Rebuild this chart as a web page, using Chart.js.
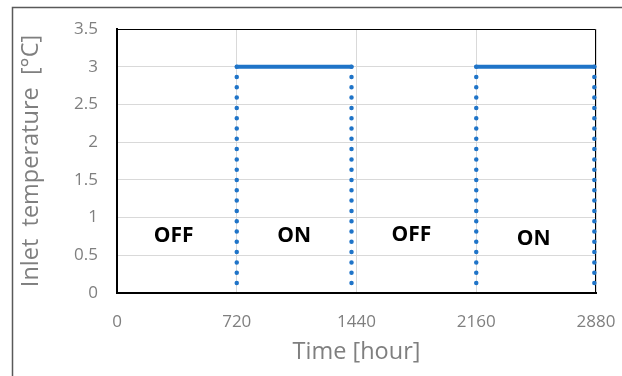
<!DOCTYPE html>
<html>
<head>
<meta charset="utf-8">
<script src="https://cdn.jsdelivr.net/npm/chart.js@4/dist/chart.umd.min.js"></script>
<style>
  html, body { margin: 0; padding: 0; background: #ffffff; }
  #wrap { position: relative; width: 622px; height: 376px; }
</style>
</head>
<body>
<div id="wrap"><canvas id="c" width="622" height="376"></canvas></div>
<script>
// Operating schedule of the heat source: inlet temperature while switched ON
const onStart = [720, 2160];      // hour the source switches ON
const onEnd = [1410, 2870];       // hour the source switches OFF again
const onLevel = [3, 3];           // inlet temperature while ON [°C]
const offLevel = [0, 0];          // inlet temperature while OFF [°C]

// Axis ticks
const xTicks = [0, 720, 1440, 2160, 2880];
const yMin = 0, yMax = 3.5, yStep = 0.5;

// State annotations inside the plot
const stateLabels = ['OFF', 'ON', 'OFF', 'ON'];
const stateLabelX = [340, 1065, 1770, 2505];
const stateLabelY = [0.75, 0.75, 0.77, 0.72];

const BLUE = '#1F74C8';
const GREY_TEXT = '#7F7F7F';
const FONT = "'Open Sans', 'DejaVu Sans', sans-serif";

const datasets = [];
// solid plateau while ON
onStart.forEach((s, i) => {
  datasets.push({
    data: [{x: s, y: onLevel[i]}, {x: onEnd[i], y: onLevel[i]}],
    borderColor: BLUE, borderWidth: 4, borderCapStyle: 'round',
    showLine: true, pointRadius: 0, clip: false
  });
});
// dotted switching edges (drawn from the plateau down)
onStart.forEach((s, i) => {
  [s, onEnd[i]].forEach(x => {
    datasets.push({
      data: [{x: x, y: onLevel[i]}, {x: x, y: offLevel[i]}],
      borderColor: BLUE, borderWidth: 4.5, borderCapStyle: 'round',
      borderDash: [0, 10.3],
      showLine: true, pointRadius: 0, clip: false
    });
  });
});

const framePlugin = {
  id: 'frames',
  beforeDraw(chart) {
    const ctx = chart.ctx;
    ctx.save();
    // outer chart frame
    ctx.strokeStyle = '#595959';
    ctx.lineWidth = 1.5;
    ctx.beginPath();
    ctx.moveTo(12.5, 400);
    ctx.lineTo(12.5, 7.5);
    ctx.lineTo(640, 7.5);
    ctx.stroke();
    ctx.restore();
  },
  beforeDatasetsDraw(chart) {
    const {ctx, chartArea: a} = chart;
    ctx.save();
    ctx.strokeStyle = '#000000';
    ctx.lineWidth = 1;
    ctx.beginPath();
    ctx.moveTo(a.left, a.top + 0.5);
    ctx.lineTo(a.right - 0.5, a.top + 0.5);
    ctx.lineTo(a.right - 0.5, a.bottom);
    ctx.stroke();
    ctx.restore();
  },
  afterDatasetsDraw(chart) {
    const {ctx, scales: {x, y}} = chart;
    ctx.save();
    ctx.fillStyle = '#000000';
    ctx.font = "bold 21px " + FONT;
    ctx.textAlign = 'center';
    ctx.textBaseline = 'middle';
    stateLabels.forEach((t, i) => {
      ctx.fillText(t, x.getPixelForValue(stateLabelX[i]), y.getPixelForValue(stateLabelY[i]));
    });
    ctx.restore();
  }
};

new Chart(document.getElementById('c'), {
  type: 'scatter',
  data: { datasets },
  options: {
    responsive: false,
    animation: false,
    events: [],
    layout: { padding: { left: 0, top: 29, right: 26, bottom: 0 } },
    plugins: { legend: { display: false }, tooltip: { enabled: false } },
    scales: {
      x: {
        type: 'linear', min: xTicks[0], max: xTicks[xTicks.length - 1],
        afterBuildTicks: s => { s.ticks = xTicks.map(v => ({value: v})); },
        afterFit: s => { s.height = 83; s.paddingLeft = 0; s.paddingRight = 0; },
        grid: { color: '#D9D9D9', lineWidth: 1, drawTicks: false },
        border: { color: '#000000', width: 2 },
        ticks: {
          padding: 19, color: GREY_TEXT, maxRotation: 0,
          font: { family: FONT, size: 17 },
          callback: v => String(v)
        },
        title: {
          display: true, text: 'Time [hour]', color: GREY_TEXT,
          font: { family: FONT, size: 23.5 }, padding: { top: 0, bottom: 10 }
        }
      },
      y: {
        type: 'linear', min: yMin, max: yMax,
        afterFit: s => { s.width = 117; s.paddingTop = 0; s.paddingBottom = 0; },
        ticks: {
          stepSize: yStep, padding: 19, color: GREY_TEXT,
          font: { family: FONT, size: 17 },
          callback: v => String(v)
        },
        grid: { color: '#D9D9D9', lineWidth: 1, drawTicks: false },
        border: { color: '#000000', width: 2 },
        title: {
          display: true, text: 'Inlet  temperature  [°C]', color: GREY_TEXT,
          font: { family: FONT, size: 23.5 }, padding: { top: 17, bottom: 0 }
        }
      }
    }
  },
  plugins: [framePlugin]
});
</script>
</body>
</html>
